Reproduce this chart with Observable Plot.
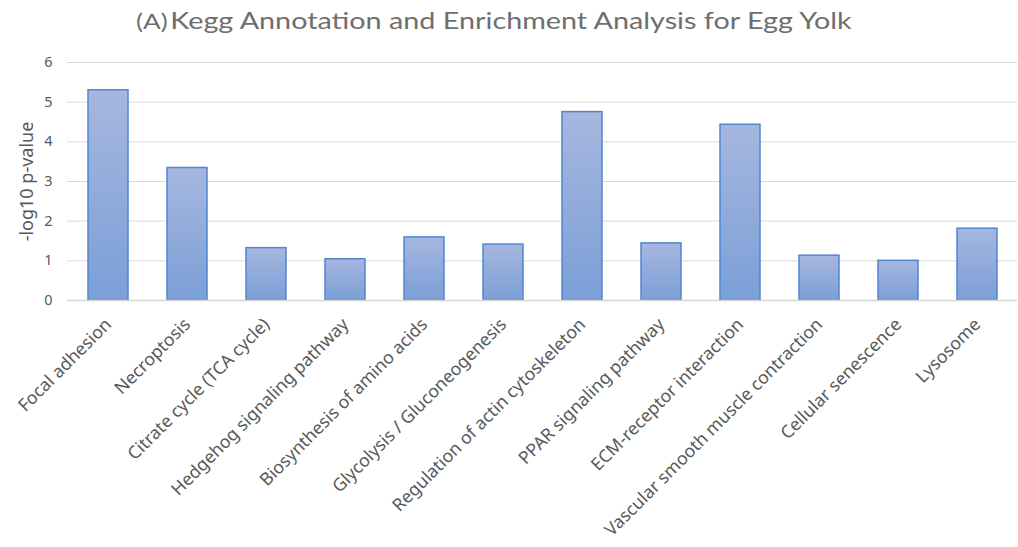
<!DOCTYPE html>
<html><head><meta charset="utf-8">
<script src="https://cdn.jsdelivr.net/npm/d3@7"></script>
<script src="https://cdn.jsdelivr.net/npm/@observablehq/plot@0.6"></script>
<style>
html,body{margin:0;padding:0;background:#fff;}
#title{position:relative;height:45px;width:1018px;}
#title span.t{position:absolute;left:136px;top:6px;white-space:nowrap;font-family:Lato,sans-serif;font-weight:400;color:#6e6e6e;font-size:23px;transform:scaleX(1.25);transform-origin:0 0;}
#title span.a{font-size:21px;margin-right:2px;}
#chart svg text{font-family:'Noto Sans',sans-serif;}
</style></head>
<body>
<div id="title"><span class="t"><span class="a">(A)</span>Kegg Annotation and Enrichment Analysis for Egg Yolk</span></div>
<div id="chart"></div>
<script>
const categories = ["Focal adhesion","Necroptosis","Citrate cycle (TCA cycle)","Hedgehog signaling pathway","Biosynthesis of amino acids","Glycolysis / Gluconeogenesis","Regulation of actin cytoskeleton","PPAR signaling pathway","ECM-receptor interaction","Vascular smooth muscle contraction","Cellular senescence","Lysosome"];
const values = [5.30, 3.34, 1.32, 1.04, 1.59, 1.41, 4.75, 1.44, 4.43, 1.13, 1.00, 1.81];
const yTicks = [0,1,2,3,4,5,6];
const yLabel = "-log10 p-value";
const data = categories.map((c,i)=>({category:c, value:values[i]}));

const chart = Plot.plot({
  width: 1018,
  height: 502,
  marginTop: 17,
  marginBottom: 247,
  marginLeft: 67,
  marginRight: 1,
  style: {fontFamily: "'Noto Sans', sans-serif", color: "#595959", background: "#fff"},
  x: {domain: categories, paddingInner: 0.495, paddingOuter: 0.2475, label: null},
  y: {domain: [0, 6], label: null},
  marks: [
    Plot.ruleY(yTicks.filter(d=>d>0), {stroke: "#d9d9d9", strokeOpacity: 1, strokeWidth: 1}),
    Plot.barY(data, {x: "category", y: "value", fill: "url(#barGrad)", stroke: "#4f86d0", strokeWidth: 1.5}),
    Plot.ruleY([0], {stroke: "#d6d6d6", strokeWidth: 1.5}),
    Plot.axisY({ticks: yTicks, tickFormat: "d", tickSize: 0, tickPadding: 15, fontSize: 14.5, label: null}),
    Plot.text([yLabel], {frameAnchor: "left", textAnchor: "middle", rotate: -90, dx: -40, fontSize: 18, fill: "#595959"}),
    Plot.axisX({tickSize: 0, tickRotate: -45, tickPadding: 21, fontSize: 17.6})
  ]
});
const svg = d3.select(chart);
const defs = svg.insert("defs", ":first-child");
const g = defs.append("linearGradient").attr("id","barGrad").attr("x1",0).attr("y1",0).attr("x2",0).attr("y2",1);
g.append("stop").attr("offset","0%").attr("stop-color","#a6b7df");
g.append("stop").attr("offset","100%").attr("stop-color","#7b9fd7");
document.getElementById("chart").appendChild(chart);
</script>
</body></html>
